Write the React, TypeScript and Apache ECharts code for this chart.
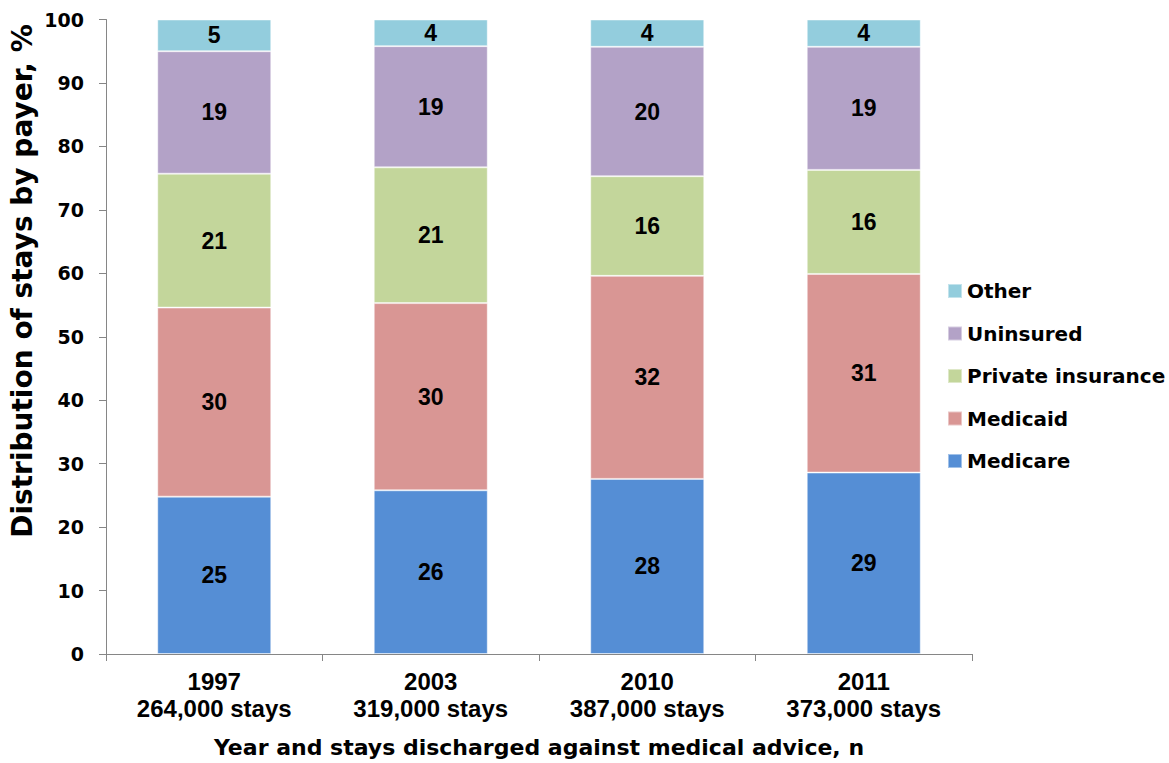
import React, { useEffect, useRef } from "react";
import * as echarts from "echarts";

const categories = ["1997\n264,000 stays", "2003\n319,000 stays", "2010\n387,000 stays", "2011\n373,000 stays"];
const seriesNames = ["Medicare", "Medicaid", "Private insurance", "Uninsured", "Other"];
const medicare = [24.8, 25.8, 27.6, 28.6];
const medicaid = [29.8, 29.5, 32.0, 31.3];
const privateIns = [21.1, 21.4, 15.7, 16.4];
const uninsured = [19.3, 19.1, 20.4, 19.4];
const other = [5.0, 4.2, 4.3, 4.3];
const colors = ["#558ED5", "#D99694", "#C3D69B", "#B3A2C7", "#93CDDD"];
const legendOrder = ["Other", "Uninsured", "Private insurance", "Medicaid", "Medicare"];

const yTitle = "Distribution of stays by payer, %";
const xTitle = "Year and stays discharged against medical advice, n";

export default function App() {
  const ref = useRef<HTMLDivElement>(null);
  useEffect(() => {
    if (!ref.current) return;
    const chart = echarts.init(ref.current, null, { renderer: "svg" });
    const values = [medicare, medicaid, privateIns, uninsured, other];
    const axisColor = "#868686";
    chart.setOption({
      animation: false,
      grid: { left: 106, right: 197, top: 19.5, bottom: 108.5, containLabel: false },
      legend: {
        orient: "vertical",
        left: 947,
        top: 281,
        padding: 0,
        data: legendOrder,
        icon: "rect",
        itemWidth: 14,
        itemHeight: 14,
        itemGap: 22.5,
        textStyle: { fontFamily: "DejaVu Sans", fontWeight: "bold", fontSize: 20, color: "#000", lineHeight: 20 },
      },
      xAxis: {
        type: "category",
        data: categories,
        axisLine: { lineStyle: { color: axisColor, width: 1 } },
        axisTick: { show: true, length: 7, lineStyle: { color: axisColor } },
        axisLabel: {
          margin: 14,
          fontFamily: "Liberation Sans",
          fontWeight: "bold",
          fontSize: 24,
          lineHeight: 27,
          color: "#000",
        },
        name: xTitle,
        nameLocation: "middle",
        nameGap: 82,
        nameTextStyle: { fontFamily: "DejaVu Sans", fontWeight: "bold", fontSize: 22, color: "#000", verticalAlign: "top" },
      },
      yAxis: {
        type: "value",
        min: 0,
        max: 100,
        interval: 10,
        splitLine: { show: false },
        axisLine: { show: true, lineStyle: { color: axisColor, width: 1 } },
        axisTick: { show: true, length: 7, lineStyle: { color: axisColor } },
        axisLabel: { margin: 22, fontFamily: "DejaVu Sans", fontWeight: "bold", fontSize: 19, color: "#000" },
      },
      graphic: [
        {
          type: "text",
          x: 22,
          y: 281,
          rotation: Math.PI / 2,
          style: {
            text: yTitle,
            font: "bold 28px 'DejaVu Sans'",
            fill: "#000",
            textAlign: "center",
            textVerticalAlign: "middle",
          },
        },
      ],
      series: seriesNames.map((name, i) => ({
        name,
        type: "bar",
        stack: "total",
        barWidth: 114,
        data: values[i],
        itemStyle: { color: colors[i], borderColor: "rgba(255,255,255,0.45)", borderWidth: 1 },
        label: {
          show: true,
          position: "inside",
          formatter: (p: any) => String(Math.round(p.value)),
          fontFamily: "Liberation Sans",
          fontWeight: "bold",
          fontSize: 23,
          color: "#000",
        },
      })),
    });
    return () => chart.dispose();
  }, []);
  return <div ref={ref} style={{ width: 1169, height: 763, position: "absolute", left: 0, top: 0 }} />;
}
